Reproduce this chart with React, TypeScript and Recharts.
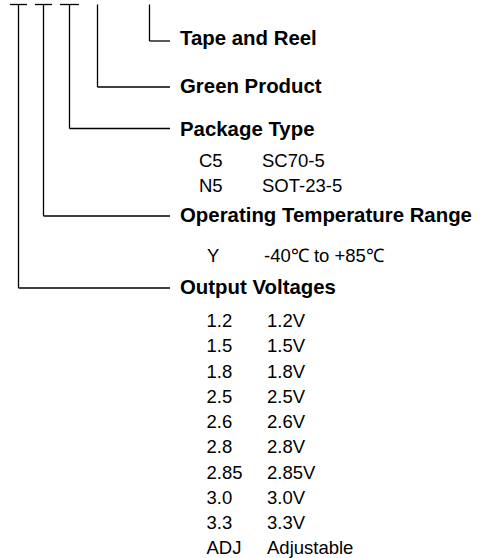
import React from 'react';
import { ComposedChart, XAxis, YAxis, Scatter, ReferenceLine } from 'recharts';

// ---- content ----
const sectionTitles = ['Tape and Reel', 'Green Product', 'Package Type', 'Operating Temperature Range', 'Output Voltages'];
const packageCodes = ['C5', 'N5'];
const packageNames = ['SC70-5', 'SOT-23-5'];
const temperatureCodes = ['Y'];
const temperatureRanges = ['-40℃ to +85℃'];
const voltageCodes = ['1.2', '1.5', '1.8', '2.5', '2.6', '2.8', '2.85', '3.0', '3.3', 'ADJ'];
const voltageNames = ['1.2V', '1.5V', '1.8V', '2.5V', '2.6V', '2.8V', '2.85V', '3.0V', '3.3V', 'Adjustable'];

// ---- layout ----
const W = 483;
const H = 558;
const BRANCH_X = [149.5, 97.5, 69.5, 43.5, 18.5];
const BRANCH_Y = [41, 87, 128.5, 216, 288];
const TITLE_BASE = [45, 93, 136, 222, 294];
const BRANCH_TOP = 4.5;
const BRANCH_END = 170;
const TITLE_X = 180;
const CROSSBARS: [number, number][] = [[10, 27], [35, 52], [60, 79]];
const FONT = "'Liberation Sans', Arial, Helvetica, sans-serif";

const rows = (labels: string[], x: number, y0: number, step: number) =>
  labels.map((label, i) => ({ x, y: y0 + i * step, label }));

const titleData = sectionTitles.map((label, i) => ({ x: TITLE_X, y: TITLE_BASE[i], label }));
const codeData = [
  ...rows(packageCodes, 199, 167, 25),
  ...rows(temperatureCodes, 207, 262, 25),
  ...rows(voltageCodes, 206.5, 327, 25.25),
];
const nameData = [
  ...rows(packageNames, 262, 167, 25),
  ...rows(temperatureRanges, 264, 262, 25),
  ...rows(voltageNames, 267, 327, 25.25),
];

const makeText = (weight: string, size: number) => (props: any) => {
  const { cx, cy, payload } = props;
  return (
    <text x={cx} y={cy} fill="#000" fontFamily={FONT} fontWeight={weight} fontSize={size} textAnchor="start">
      {payload.label}
    </text>
  );
};

export default function App() {
  return (
    <div style={{ position: 'absolute', left: 0, top: 0, background: '#fff' }}>
      <ComposedChart width={W} height={H} margin={{ top: 0, right: 0, bottom: 0, left: 0 }}>
        <XAxis type="number" dataKey="x" domain={[0, W]} hide allowDataOverflow />
        <YAxis type="number" dataKey="y" domain={[0, H]} reversed hide allowDataOverflow />
        {CROSSBARS.map(([a, b], i) => (
          <ReferenceLine
            key={'cb' + i}
            segment={[{ x: a, y: BRANCH_TOP }, { x: b, y: BRANCH_TOP }]}
            stroke="#000"
            strokeWidth={1.3}
            ifOverflow="visible"
          />
        ))}
        {BRANCH_X.map((bx, i) => (
          <ReferenceLine
            key={'v' + i}
            segment={[{ x: bx, y: BRANCH_TOP }, { x: bx, y: BRANCH_Y[i] }]}
            stroke="#000"
            strokeWidth={1.3}
            ifOverflow="visible"
          />
        ))}
        {BRANCH_X.map((bx, i) => (
          <ReferenceLine
            key={'h' + i}
            segment={[{ x: bx, y: BRANCH_Y[i] }, { x: BRANCH_END, y: BRANCH_Y[i] }]}
            stroke="#000"
            strokeWidth={1.3}
            ifOverflow="visible"
          />
        ))}
        <Scatter data={titleData} shape={makeText('bold', 20.4)} isAnimationActive={false} />
        <Scatter data={codeData} shape={makeText('normal', 18.5)} isAnimationActive={false} />
        <Scatter data={nameData} shape={makeText('normal', 18.5)} isAnimationActive={false} />
      </ComposedChart>
    </div>
  );
}
